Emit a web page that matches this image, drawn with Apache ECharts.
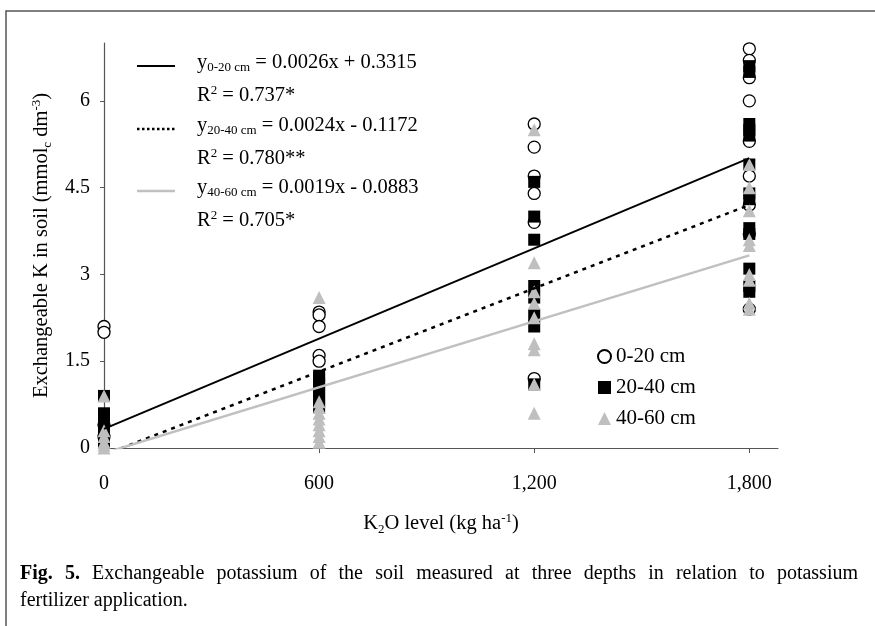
<!DOCTYPE html>
<html>
<head>
<meta charset="utf-8">
<script src="https://cdn.jsdelivr.net/npm/echarts@6/dist/echarts.min.js"></script>
<style>
  html, body { margin: 0; padding: 0; background: #fff; }
  #chart { width: 875px; height: 626px; }
</style>
</head>
<body>
<div id="chart"></div>
<script>
// K2O levels (kg/ha) and exchangeable K readings per depth, one list per level
const levels = [0, 600, 1200, 1800];
const depth0_20 = [
  [2.1, 2.0, 0.4, 0.2],
  [2.35, 2.3, 2.1, 1.6, 1.5],
  [5.6, 5.2, 4.7, 4.4, 3.9, 1.2],
  [6.9, 6.7, 6.4, 6.0, 5.3, 4.7, 4.2, 3.7, 2.4]
];
const depth20_40 = [
  [0.9, 0.6, 0.4, 0.2, 0.1],
  [1.25, 1.2, 1.1, 1.0, 0.9, 0.8, 0.7],
  [4.6, 4.0, 3.6, 2.8, 2.6, 2.3, 2.1, 1.1],
  [6.6, 6.5, 5.6, 5.5, 5.4, 4.9, 4.4, 4.3, 3.8, 3.7, 3.1, 2.8, 2.7]
];
const depth40_60 = [
  [0.9, 0.3, 0.2, 0.1, 0.05, 0],
  [2.6, 0.8, 0.7, 0.6, 0.5, 0.4, 0.3, 0.2, 0.1],
  [5.5, 3.2, 2.7, 2.5, 2.25, 1.8, 1.7, 1.1, 0.6],
  [4.9, 4.5, 4.1, 3.6, 3.5, 3.0, 2.9, 2.5, 2.4]
];
// fitted lines, end points at x = 0 and x = 1800
const trendX = [0, 1800];
const trend0_20 = [0.33, 5.01];
const trend20_40 = [-0.12, 4.20];
const trend40_60 = [-0.09, 3.33];
const xTicks = [0, 600, 1200, 1800];

const serif = "'Liberation Serif', 'DejaVu Serif', serif";

function pairs(byLevel) {
  const out = [];
  byLevel.forEach((vals, i) => vals.forEach(v => out.push([levels[i], v])));
  return out;
}
function line(ys) {
  return trendX.map((x, i) => [x, ys[i]]);
}

// equation labels at top left
const eqs = [
  { sub: "0-20 cm", txt: " = 0.0026x + 0.3315", r2: "0.737*", y: 66, style: { stroke: "#000", lineWidth: 2 } },
  { sub: "20-40 cm", txt: " = 0.0024x - 0.1172", r2: "0.780**", y: 129, style: { stroke: "#000", lineWidth: 2.5, lineDash: [2.5, 2.5] } },
  { sub: "40-60 cm", txt: " = 0.0019x - 0.0883", r2: "0.705*", y: 191, style: { stroke: "#c0c0c0", lineWidth: 2.5 } }
];
const eqRich = {
  m: { fontSize: 20.5, fontFamily: serif, color: "#000", lineHeight: 24 },
  sub: { fontSize: 13, fontFamily: serif, color: "#000", verticalAlign: "bottom", lineHeight: 24 },
  sup: { fontSize: 13, fontFamily: serif, color: "#000", verticalAlign: "top", lineHeight: 24 }
};
const graphics = [];
eqs.forEach(e => {
  graphics.push({ type: "line", shape: { x1: 137, y1: e.y, x2: 175, y2: e.y }, style: e.style });
  graphics.push({ type: "text", left: 197, top: e.y - 14,
    style: { text: "{m|y}{sub|" + e.sub + "}{m|" + e.txt + "}", rich: eqRich } });
  graphics.push({ type: "text", left: 197, top: e.y + 18,
    style: { text: "{m|R}{sup|2}{m| = " + e.r2 + "}", rich: eqRich } });
});

// figure frame (top and left rule)
graphics.push({ type: "polyline", shape: { points: [[6, 626], [6, 11], [875, 11]] },
  style: { stroke: "#555", lineWidth: 1.5, fill: null } });

// justified caption
const cap1 = ["Fig.", "5.", "Exchangeable", "potassium", "of", "the", "soil", "measured", "at", "three",
  "depths", "in", "relation", "to", "potassium"];
const capFont = "20px " + serif;
const ctx = document.createElement("canvas").getContext("2d");
function wWidth(w, bold) {
  ctx.font = (bold ? "bold " : "") + capFont;
  return ctx.measureText(w).width;
}
const capLeft = 20, capRight = 858;
let total = 0;
cap1.forEach((w, i) => { total += wWidth(w, i < 2); });
const gap = (capRight - capLeft - total) / (cap1.length - 1);
let cx = capLeft;
cap1.forEach((w, i) => {
  graphics.push({ type: "text", left: cx, top: 564,
    style: { text: w, font: (i < 2 ? "bold " : "") + capFont, fill: "#000" } });
  cx += wWidth(w, i < 2) + gap;
});
graphics.push({ type: "text", left: capLeft, top: 591,
  style: { text: "fertilizer application.", font: capFont, fill: "#000" } });

const nameRich = {
  sub: { fontSize: 13, fontFamily: serif, verticalAlign: "bottom", lineHeight: 24 },
  sup: { fontSize: 13, fontFamily: serif, verticalAlign: "top", lineHeight: 24 }
};

const chart = echarts.init(document.getElementById("chart"));
chart.setOption({
  animation: false,
  backgroundColor: "#fff",
  grid: { left: 104, top: 43, right: 97, bottom: 178 },
  legend: {
    data: ["0-20 cm", "20-40 cm", "40-60 cm"],
    orient: "vertical",
    left: 592, top: 341,
    itemWidth: 13, itemHeight: 13, itemGap: 10,
    textStyle: { fontFamily: serif, fontSize: 21, color: "#000" }
  },
  xAxis: {
    type: "value", min: 0, max: 1880, interval: 600,
    name: "K{sub|2}O level (kg ha{sup|-1})",
    nameLocation: "middle", nameGap: 64,
    nameTextStyle: { fontFamily: serif, fontSize: 20.5, color: "#000", rich: nameRich },
    splitLine: { show: false },
    axisLine: { lineStyle: { color: "#555", width: 1.2 } },
    axisTick: { customValues: xTicks, length: 5, lineStyle: { color: "#555" } },
    axisLabel: {
      customValues: xTicks, margin: 26,
      fontFamily: serif, fontSize: 20, color: "#000",
      formatter: v => v.toLocaleString("en-US")
    }
  },
  yAxis: {
    type: "value", min: 0, max: 7, interval: 1.5,
    name: "Exchangeable K in soil (mmol{sub|c} dm{sup|-3})",
    nameLocation: "middle", nameGap: 50,
    nameTextStyle: { fontFamily: serif, fontSize: 20.5, color: "#000", rich: nameRich },
    splitLine: { show: false },
    axisLine: { show: true, lineStyle: { color: "#555", width: 1.2 } },
    axisTick: { show: true, length: 4, lineStyle: { color: "#555" } },
    axisLabel: {
      showMaxLabel: false, margin: 14,
      fontFamily: serif, fontSize: 20, color: "#000",
      formatter: v => (v === 7 ? "" : String(v))
    }
  },
  series: [
    {
      name: "0-20 cm", type: "scatter", symbol: "circle", symbolSize: 12,
      itemStyle: { color: "#fff", borderColor: "#000", borderWidth: 1.3, opacity: 1 },
      data: pairs(depth0_20)
    },
    {
      name: "20-40 cm", type: "scatter", symbol: "rect", symbolSize: 12,
      itemStyle: { color: "#000", opacity: 1 },
      data: pairs(depth20_40)
    },
    {
      name: "40-60 cm", type: "scatter", symbol: "triangle", symbolSize: 13,
      itemStyle: { color: "#bfbfbf", opacity: 1 },
      data: pairs(depth40_60)
    },
    {
      type: "line", symbol: "none", clip: true, z: 3,
      lineStyle: { color: "#000", width: 2 },
      data: line(trend0_20)
    },
    {
      type: "line", symbol: "none", clip: true, z: 3,
      lineStyle: { color: "#000", width: 2.5, type: [4, 5] },
      data: line(trend20_40)
    },
    {
      type: "line", symbol: "none", clip: true, z: 3,
      lineStyle: { color: "#c0c0c0", width: 2.5 },
      data: line(trend40_60)
    }
  ],
  graphic: graphics
});
</script>
</body>
</html>
